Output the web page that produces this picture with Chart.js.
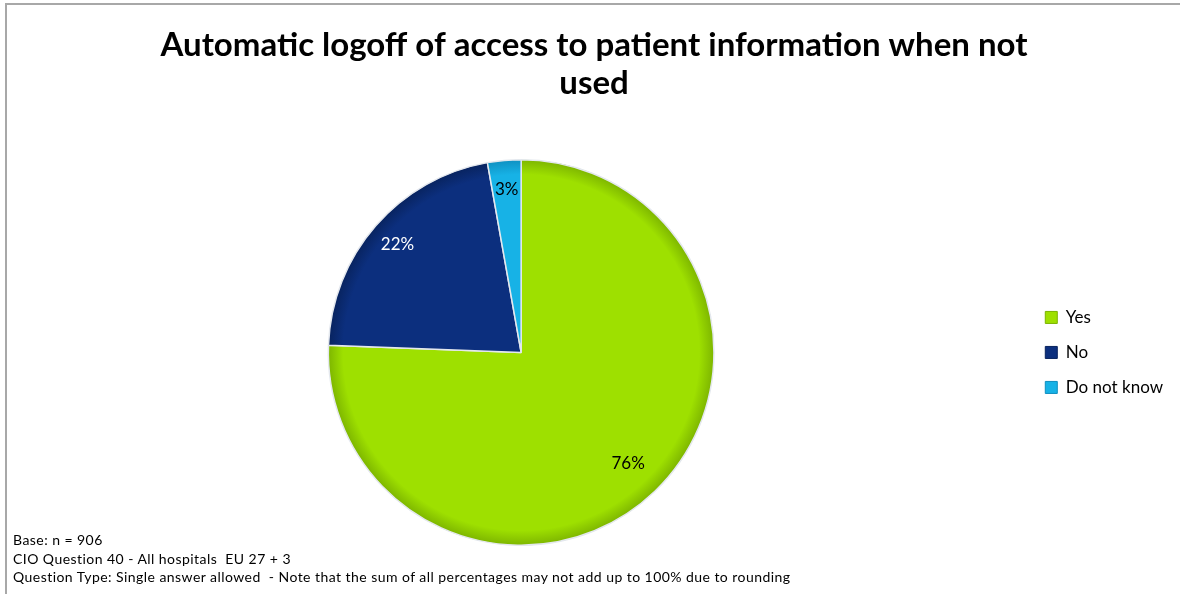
<!DOCTYPE html>
<html>
<head>
<meta charset="utf-8">
<script src="https://cdn.jsdelivr.net/npm/chart.js@4/dist/chart.umd.min.js"></script>
<style>
  html, body { margin: 0; padding: 0; background: #fff; overflow: hidden; }
  #frame { position: absolute; left: 5px; top: 3px; width: 1200px; height: 620px; border: 2px solid #a8a8a8; }
  #wrap { position: absolute; left: 0; top: 0; width: 1180px; height: 594px; }
  #notes { position: absolute; left: 13px; top: 531px; font-family: Lato, sans-serif; font-size: 14px; letter-spacing: 0.45px; line-height: 18.5px; color: #000; white-space: nowrap; }
</style>
</head>
<body>
<div id="frame"></div>
<div id="wrap"><canvas id="pieChart"></canvas></div>
<div id="notes">
  <div>Base: n = 906</div>
  <div>CIO Question 40 - All hospitals&nbsp; EU 27 + 3</div>
  <div>Question Type: Single answer allowed&nbsp; - Note that the sum of all percentages may not add up to 100% due to rounding</div>
</div>
<script>
// dades del gràfic
const titleLines = ['Automatic logoff of access to patient information when not', 'used'];
const categories = ['Yes', 'No', 'Do not know'];
const shares = [75.6, 21.6, 2.8];
const sliceColors = ['#9ee000', '#0c2f7e', '#17b2e6'];
const rimColors = ['#7cb400', '#08235e', '#0f8fc0'];
const labelColors = ['#000000', '#ffffff', '#000000'];

// gradient radial per donar l'efecte de vora
function sliceFill(ctx) {
    const chart = ctx.chart;
    const area = chart.chartArea;
    const i = ctx.dataIndex;
    if (!area || i === undefined) return sliceColors[i] || '#ccc';
    const cx = (area.left + area.right) / 2;
    const cy = (area.top + area.bottom) / 2;
    const r = Math.min(area.width, area.height) / 2;
    const g = chart.ctx.createRadialGradient(cx, cy, 0, cx, cy, r);
    g.addColorStop(0, sliceColors[i]);
    g.addColorStop(0.92, sliceColors[i]);
    g.addColorStop(1, rimColors[i]);
    return g;
}

// etiquetes de percentatge dins de cada sector
const pctLabels = {
    id: 'pctLabels',
    afterDatasetsDraw(chart) {
        const c = chart.ctx;
        const meta = chart.getDatasetMeta(0);
        c.save();
        c.font = '17px Lato, sans-serif';
        c.textAlign = 'center';
        c.textBaseline = 'middle';
        meta.data.forEach((arc, i) => {
            const p = arc.getProps(['x', 'y', 'startAngle', 'endAngle', 'outerRadius'], true);
            const mid = (p.startAngle + p.endAngle) / 2;
            const r = p.outerRadius * (i === 0 ? 0.8 : 0.85);
            c.fillStyle = labelColors[i];
            c.fillText(Math.round(shares[i]) + '%', p.x + Math.cos(mid) * r, p.y + Math.sin(mid) * r);
        });
        c.restore();
    }
};

const ctx = document.getElementById('pieChart').getContext('2d');
window.pieChart = new Chart(ctx, {
    type: 'pie',
    data: {
        labels: categories,
        datasets: [{
            data: shares,
            backgroundColor: sliceFill,
            borderColor: '#e4e8ee',
            borderWidth: 1.5
        }]
    },
    options: {
        responsive: true,
        maintainAspectRatio: false,
        animation: false,
        layout: { padding: { left: 15, right: 7, bottom: 48, top: 0 } },
        plugins: {
            title: {
                display: true,
                text: titleLines,
                color: '#000',
                font: { family: 'Lato, sans-serif', size: 33, weight: 'bold', lineHeight: 1.15 },
                padding: { top: 26, bottom: 57 }
            },
            legend: {
                position: 'right',
                fullSize: false,
                labels: {
                    color: '#000',
                    font: { family: 'Lato, sans-serif', size: 17 },
                    boxWidth: 12,
                    boxHeight: 12,
                    padding: 18,
                    generateLabels(chart) {
                        return categories.map((name, i) => ({
                            text: name,
                            fillStyle: sliceColors[i],
                            strokeStyle: rimColors[i],
                            lineWidth: 1,
                            fontColor: '#000',
                            index: i,
                            hidden: false
                        }));
                    }
                }
            },
            tooltip: { enabled: false }
        }
    },
    plugins: [pctLabels]
});
</script>
</body>
</html>
